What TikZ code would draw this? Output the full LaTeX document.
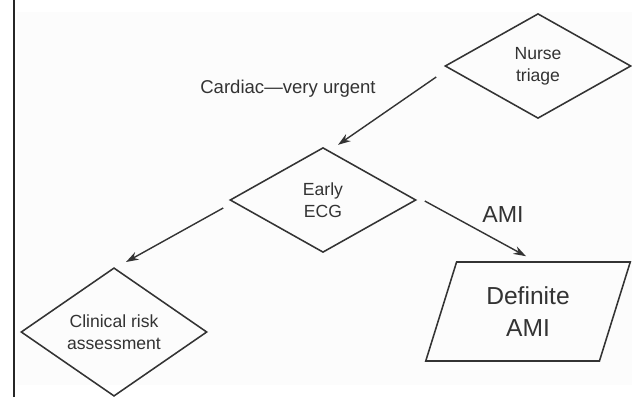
\documentclass[tikz,border=0pt]{standalone}
\usepackage{fontspec}
\setmainfont{Liberation Sans}
\usepackage{tikz}
\usetikzlibrary{arrows.meta,positioning,shapes.geometric}
\definecolor{fcInk}{HTML}{333333}
\definecolor{fcPaper}{HTML}{FCFCFC}

\tikzset{
  decision/.style={diamond,draw=fcInk,line width=1.1pt,inner sep=0pt,
    minimum width=4.65cm,minimum height=2.62cm,align=center,
    font=\fontsize{12.5}{15.5}\selectfont,text=fcInk},
  outcome/.style={trapezium,trapezium left angle=70,trapezium right angle=110,
    trapezium stretches=true,draw=fcInk,line width=1.1pt,inner sep=0pt,
    minimum width=5.15cm,minimum height=2.475cm,align=center,
    font=\fontsize{17.5}{22.5}\selectfont,text=fcInk},
  flow/.style={draw=fcInk,line width=1pt,-{Stealth[length=9pt,width=6pt]}},
  note/.style={text=fcInk,inner sep=1pt},
}

\begin{document}
\begin{tikzpicture}
  \useasboundingbox (0,0) rectangle (15.8,9.925);
  \fill[fcPaper] (0.425,0.3) rectangle (15.8,9.625);
  \draw[black!85,line width=2pt] (0.35,0) -- (0.35,9.925);

  \node[decision] (nurse) at (13.45,8.275) {Nurse\\triage};
  \node[decision] (ecg) at (8.075,4.925) {Early\\ECG};
  \node[decision] (clinical) at (2.85,1.625) {Clinical risk\\assessment};
  \node[outcome] (definite) at (13.2,2.1375) {Definite\\AMI};

  \node[note,font=\fontsize{13.2}{15}\selectfont] (urgent) at (7.2,7.7) {Cardiac---very urgent};
  \node[note,font=\fontsize{16.5}{18}\selectfont] (ami) at (12.575,4.55) {AMI};

  \draw[flow] ([shift={(-0.2,-0.275)}]nurse.west) -- ([shift={(0.375,0.05)}]ecg.north);
  \draw[flow] ([shift={(0.2,-0.025)}]ecg.east) -- ([shift={(-0.05,0.125)}]definite.north);
  \draw[flow] ([shift={(-0.15,-0.2)}]ecg.west) -- ([shift={(0.3,0.125)}]clinical.north);
\end{tikzpicture}
\end{document}
